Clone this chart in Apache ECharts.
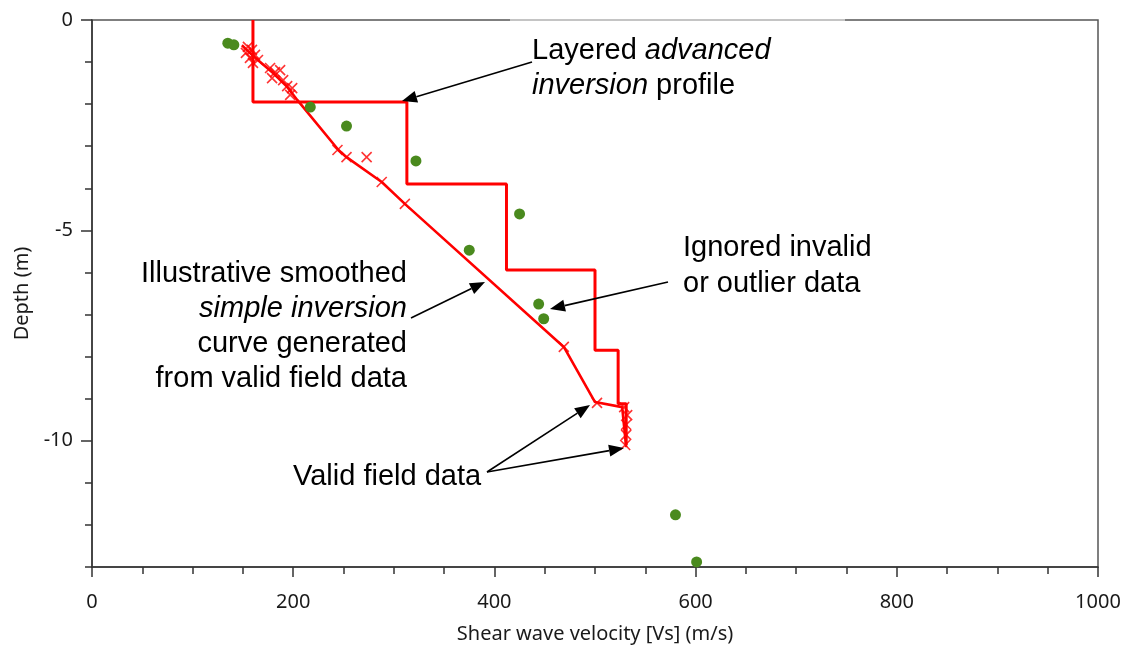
<!DOCTYPE html>
<html><head><meta charset="utf-8">
<script src="https://cdn.jsdelivr.net/npm/echarts@6/dist/echarts.min.js"></script>
<style>html,body{margin:0;padding:0;background:#fff}#c{width:1127px;height:653px}</style>
</head><body><div id="c"></div>
<script>
// ---- data ----
const yMajorTicks = [0, -5, -10];
const advancedVelocity = [160, 160, 313, 313, 412, 412, 500, 500, 523, 523, 531, 531];
const advancedDepth    = [0, -1.95, -1.95, -3.9, -3.9, -5.94, -5.94, -7.85, -7.85, -9.12, -9.12, -10.1];
const simpleVelocity = [149, 159, 180, 194, 204, 245, 253, 288, 311, 469, 500, 527, 531];
const simpleDepth    = [-0.6, -0.83, -1.26, -1.59, -1.9, -3.09, -3.26, -3.85, -4.37, -7.77, -9.08, -9.2, -10.15];
const validVelocity = [155, 159, 153, 162, 157, 165, 160, 177, 182, 187, 179, 190, 194, 199, 197, 244, 253, 273, 288, 311, 469, 502, 529, 532, 531, 531, 530];
const validDepth    = [-0.64, -0.71, -0.78, -0.83, -0.9, -0.95, -1.02, -1.14, -1.24, -1.19, -1.38, -1.43, -1.57, -1.62, -1.78, -3.09, -3.26, -3.26, -3.85, -4.37, -7.77, -9.1, -9.2, -9.39, -9.62, -9.86, -10.1];
const ignoredVelocity = [135, 141, 217, 253, 322, 425, 375, 444, 449, 580, 601];
const ignoredDepth    = [-0.55, -0.59, -2.07, -2.52, -3.35, -4.61, -5.47, -6.75, -7.1, -11.76, -12.88];

const zip = (a, b) => a.map((v, i) => [v, b[i]]);
const RED = '#ff0000';
const AXIS_FONT = '"Noto Sans", "Open Sans", sans-serif';
const ANN_FONT = '"Liberation Sans", Arial, sans-serif';
const ANN_SIZE = 29;

const chart = echarts.init(document.getElementById('c'));

function arrow(x1, y1, x2, y2) {
  const dx = x2 - x1, dy = y2 - y1, L = Math.hypot(dx, dy), ux = dx / L, uy = dy / L;
  const hl = 15, hw = 6;
  const bx = x2 - ux * hl, by = y2 - uy * hl;
  return [
    {type: 'line', z: 100, shape: {x1, y1, x2: bx, y2: by}, style: {stroke: '#000', lineWidth: 1.6}},
    {type: 'polygon', z: 100, shape: {points: [[x2, y2], [bx - uy * hw, by + ux * hw], [bx + uy * hw, by - ux * hw]]}, style: {fill: '#000'}}
  ];
}
function txt(x, y, text, align, rich) {
  return {type: 'text', z: 100, x, y, style: {text, font: ANN_SIZE + 'px ' + ANN_FONT, fill: '#000', align, verticalAlign: 'middle', rich: rich || {}}};
}
const ital = {i: {font: 'italic ' + ANN_SIZE + 'px ' + ANN_FONT, fill: '#000'}};

const graphics = [
  {type: 'line', z: 50, shape: {x1: 510, y1: 20, x2: 845, y2: 20}, style: {stroke: '#c4c4c4', lineWidth: 2}},
  txt(532, 51, 'Layered {i|advanced}', 'left', ital),
  txt(532, 86, '{i|inversion} profile', 'left', ital),
  ...arrow(532, 62, 402, 101),
  txt(407, 274, 'Illustrative smoothed', 'right'),
  txt(407, 309, '{i|simple inversion}', 'right', ital),
  txt(407, 344, 'curve generated', 'right'),
  txt(407, 379, 'from valid field data', 'right'),
  ...arrow(411, 318, 485, 282),
  txt(683, 248, 'Ignored invalid', 'left'),
  txt(683, 284, 'or outlier data', 'left'),
  ...arrow(668, 282, 550, 309),
  txt(293, 477, 'Valid field data', 'left'),
  ...arrow(487, 472, 590, 405),
  ...arrow(487, 472, 624, 448)
];

const axisLabelStyle = {color: '#1a1a1a', fontFamily: AXIS_FONT, fontSize: 20};

chart.setOption({
  animation: false,
  backgroundColor: '#fff',
  grid: {left: 92, top: 20, right: 29, bottom: 86, show: true, borderColor: '#555', borderWidth: 1.5},
  xAxis: {
    type: 'value', min: 0, max: 1000, interval: 200,
    name: 'Shear wave velocity [Vs] (m/s)', nameLocation: 'middle', nameGap: 57,
    nameTextStyle: {color: '#1a1a1a', fontFamily: AXIS_FONT, fontSize: 20},
    axisLine: {show: true, onZero: false, lineStyle: {color: '#333', width: 1.5}},
    axisTick: {show: true, length: 10, lineStyle: {color: '#333', width: 1.5}},
    minorTick: {show: true, splitNumber: 4, length: 7, lineStyle: {color: '#333', width: 1.5}},
    axisLabel: Object.assign({margin: 25, formatter: v => String(v)}, axisLabelStyle),
    splitLine: {show: false}
  },
  yAxis: [{
    type: 'value', min: -13, max: 0, interval: 1, position: 'left',
    name: 'Depth (m)', nameLocation: 'middle', nameGap: 60,
    nameTextStyle: {color: '#1a1a1a', fontFamily: AXIS_FONT, fontSize: 20},
    axisLine: {show: true, onZero: false, lineStyle: {color: '#333', width: 1.5}},
    axisTick: {show: true, length: 7, lineStyle: {color: '#333', width: 1.5}},
    axisLabel: Object.assign({margin: 19, formatter: v => (yMajorTicks.indexOf(v) >= 0 ? String(v) : '')}, axisLabelStyle),
    splitLine: {show: false}
  }, {
    type: 'value', min: -13, max: 0, position: 'left', offset: 0,
    axisLine: {show: false},
    axisTick: {show: true, length: 11, customValues: yMajorTicks, lineStyle: {color: '#333', width: 1.5}},
    axisLabel: {show: false},
    splitLine: {show: false}
  }],
  series: [
    {type: 'line', name: 'advanced', data: zip(advancedVelocity, advancedDepth), symbol: 'none',
     lineStyle: {color: RED, width: 3}, z: 3},
    {type: 'line', name: 'simple', data: zip(simpleVelocity, simpleDepth), symbol: 'none',
     lineStyle: {color: RED, width: 2.6}, z: 3},
    {type: 'scatter', name: 'valid', data: zip(validVelocity, validDepth),
     symbol: 'path://M0,0L10,10M10,0L0,10', symbolSize: 10,
     itemStyle: {color: 'rgba(0,0,0,0)', borderColor: RED, borderWidth: 1.6}, z: 4},
    {type: 'scatter', name: 'ignored', data: zip(ignoredVelocity, ignoredDepth),
     symbol: 'circle', symbolSize: 11, itemStyle: {color: '#4a8a1e', opacity: 1}, z: 5}
  ],
  graphic: graphics
});
</script>
</body></html>
